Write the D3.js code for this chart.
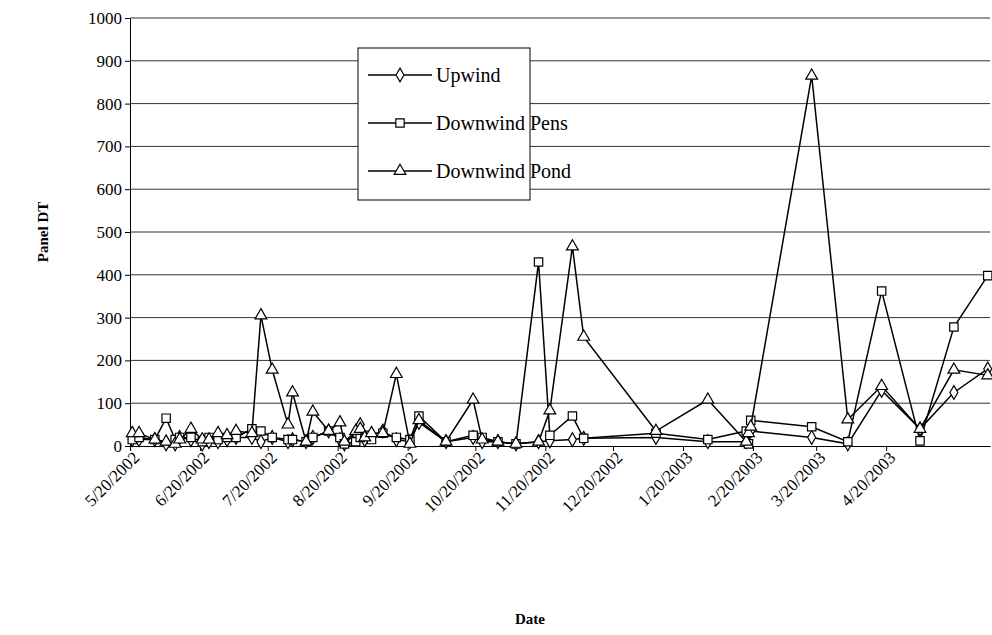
<!DOCTYPE html>
<html><head><meta charset="utf-8">
<script src="https://cdn.jsdelivr.net/npm/d3@7"></script>
<style>body{margin:0;background:#fff}svg text{font-family:'Liberation Serif',serif !important}</style>
</head><body>
<svg id="chart" width="992" height="635"></svg>
<script>
// day offsets from 5/20/2002 of each sampling
var days = [1,4,11,16,20,22,27,32,35,39,43,47,54,58,63,70,72,78,81,88,93,95,100,102,104,107,112,118,124,128,140,152,156,163,171,181,186,196,201,233,256,273,274,275,302,318,333,350,365,380];
var upwind = [15,15,15,5,5,20,15,5,10,10,15,20,20,10,20,10,15,10,20,35,15,5,30,50,15,25,35,15,10,55,10,20,10,10,5,10,12,15,18,20,10,10,30,35,20,5,130,40,125,180];
var pens = [15,20,15,65,15,20,20,10,20,15,20,20,40,35,20,15,15,10,20,35,20,5,10,20,25,15,30,20,15,70,10,25,20,10,5,430,25,70,18,30,15,35,5,60,45,10,362,12,278,398];
var pond = [30,30,15,10,5,15,40,15,15,30,25,35,30,305,178,50,125,10,80,35,55,10,35,40,20,30,30,168,5,60,10,108,15,10,5,10,83,466,255,35,108,10,30,45,865,62,140,40,178,165];
var yTicks = d3.range(0, 1001, 100);
var seriesNames = ["Upwind", "Downwind Pens", "Downwind Pond"];

var start = new Date(2002, 4, 20);
var svg = d3.select("#chart");
var L = 130, R = 990, T = 18, B = 446;

var x = d3.scaleTime().domain([start, d3.timeDay.offset(start, 381)]).range([L, R]);
var y = d3.scaleLinear().domain([0, 1000]).range([B, T]);

var tickDates = d3.range(0, 12).map(function(i){ return new Date(2002, 4 + i, 20); });

// grid
svg.selectAll(".grid").data(yTicks.slice(1)).enter().append("line")
  .attr("x1", L).attr("x2", R).attr("y1", y).attr("y2", y)
  .attr("stroke", "#333").attr("stroke-width", 1);

svg.append("g").attr("transform", "translate(" + L + ",0)")
  .call(d3.axisLeft(y).tickValues(yTicks).tickFormat(d3.format("d")).tickSize(5).tickSizeOuter(0))
  .call(function(g){ g.attr("font-size", 17);
    g.selectAll("text").attr("fill","#000").style("font-family","'Liberation Serif', serif");
    g.select(".domain").attr("stroke","#000"); });

svg.append("g").attr("transform", "translate(0," + B + ")")
  .call(d3.axisBottom(x).tickValues(tickDates).tickSize(5).tickSizeOuter(0).tickFormat(d3.timeFormat("%-m/%-d/%Y")))
  .call(function(g){
    g.attr("font-size", 17);
    g.select(".domain").attr("stroke","#000");
    g.selectAll("text").attr("fill","#000").style("font-family","'Liberation Serif', serif")
      .attr("text-anchor","end").attr("dx","-2").attr("dy","8").attr("transform","rotate(-45)");
  });

var sets = [upwind, pens, pond];
var symbols = [d3.symbolDiamond, d3.symbolSquare, d3.symbolTriangle];
var sizes = [55, 70, 60];

sets.forEach(function(vals, k) {
  var pts = days.map(function(d, i){ return [x(d3.timeDay.offset(start, d)), y(vals[i])]; });
  svg.append("path").attr("d", d3.line()(pts)).attr("fill","none").attr("stroke","#000").attr("stroke-width",1.5);
  svg.selectAll(".m" + k).data(pts).enter().append("path")
    .attr("transform", function(p){ return "translate(" + p[0] + "," + p[1] + ")"; })
    .attr("d", d3.symbol().type(symbols[k]).size(sizes[k]))
    .attr("fill","#fff").attr("stroke","#000").attr("stroke-width",1.2);
});

// legend
svg.append("rect").attr("x",358).attr("y",48).attr("width",172).attr("height",152)
  .attr("fill","#fff").attr("stroke","#000");
seriesNames.forEach(function(n, k) {
  var ly = 75 + k * 48;
  svg.append("line").attr("x1",368).attr("x2",432).attr("y1",ly).attr("y2",ly).attr("stroke","#000").attr("stroke-width",1.5);
  svg.append("path").attr("transform","translate(400," + ly + ")")
    .attr("d", d3.symbol().type(symbols[k]).size(sizes[k])).attr("fill","#fff").attr("stroke","#000").attr("stroke-width",1.2);
  svg.append("text").attr("x",436).attr("y",ly + 7).style("font-size","20px").text(n);
});

svg.append("text").attr("transform","translate(48," + ((T + B) / 2) + ") rotate(-90)")
  .attr("text-anchor","middle").style("font-size","15px").style("font-weight","bold").text("Panel DT");
svg.append("text").attr("x", (L + R) / 2 - 30).attr("y", 624).attr("text-anchor","middle")
  .style("font-size","15px").style("font-weight","bold").text("Date");
</script>
</body></html>
